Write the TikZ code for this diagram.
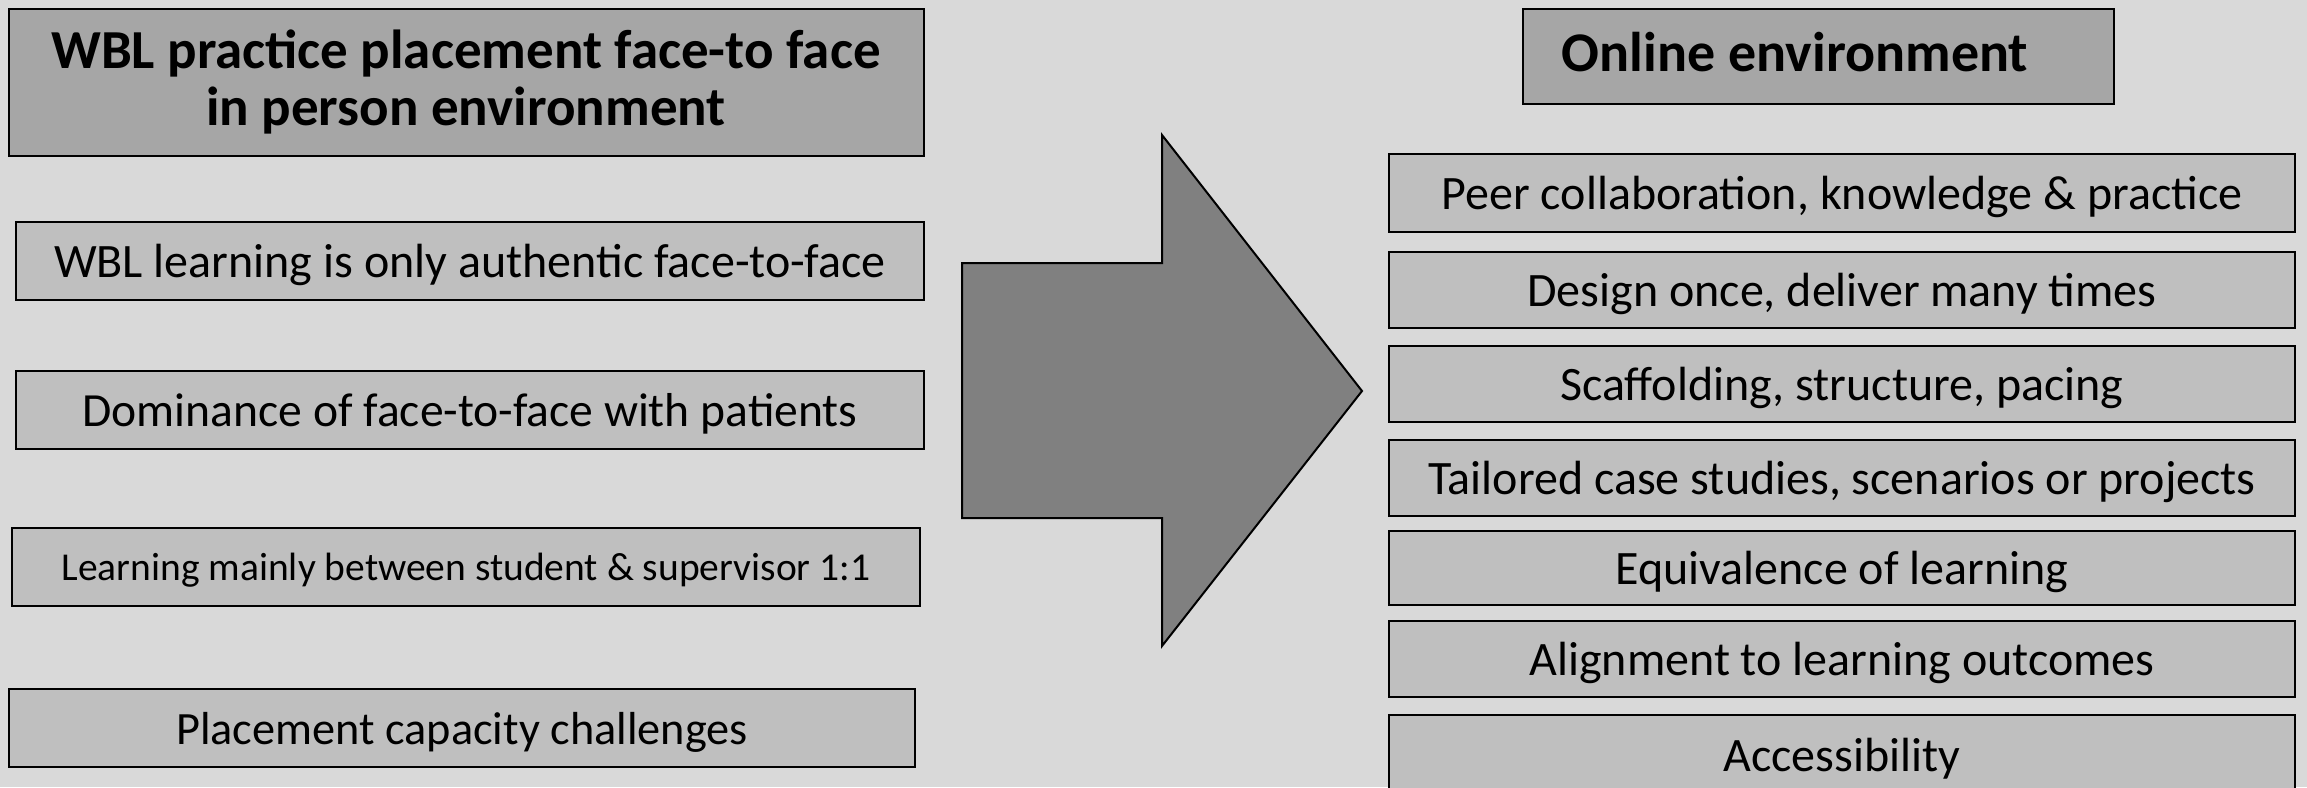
\documentclass[tikz,border=0pt]{standalone}
\usepackage{fontspec}
\setmainfont{Carlito}
\definecolor{bggray}{HTML}{D9D9D9}
\definecolor{headgray}{HTML}{A6A6A6}
\definecolor{itemgray}{HTML}{BFBFBF}
\definecolor{arrowgray}{HTML}{808080}
\begin{document}
\begin{tikzpicture}[x=1pt,y=-1pt,
  box/.style={draw=black, line width=2pt, fill=itemgray, inner sep=0pt, minimum width=906pt, minimum height=76pt, text height=36pt, text depth=4pt, font=\fontsize{48}{54}\selectfont},
  smallbox/.style={box, text height=30pt, text depth=4pt, font=\fontsize{39.5}{45}\selectfont},
  hbox/.style={draw=black, line width=2pt, fill=headgray, inner sep=0pt, font=\bfseries\fontsize{55}{57}\selectfont, align=center},
]
\clip (0,0) rectangle (2307,787);
\fill[bggray] (0,0) rectangle (2307,787);
% left column
\node[hbox, minimum width=915pt, minimum height=147pt] (tl) at (466,82) {WBL practice placement face-to face\\in person environment};
\node[box, minimum width=908pt, minimum height=78pt] (l1) at (470,261) {WBL learning is only authentic face-to-face};
\node[box, minimum width=908pt, minimum height=78pt, font=\fontsize{47.6}{54}\selectfont] (l2) at (470,410) {Dominance of face-to-face with patients};
\node[smallbox, minimum width=908pt, minimum height=78pt] (l3) at (466,567) {Learning mainly between student \& supervisor 1:1};
\node[box, minimum width=906pt, minimum height=78pt, font=\fontsize{46.3}{54}\selectfont] (l4) at (462,728) {Placement capacity challenges};
% arrow
\draw[fill=arrowgray, line width=2pt, line join=miter] (962,263) -- (1162,263) -- (1162,135) -- (1362,391) -- (1162,646) -- (1162,518) -- (962,518) -- cycle;
% right column
\node[hbox, minimum width=591pt, minimum height=95pt] (tr) at (1818,56) {};
\node[font=\bfseries\fontsize{56}{57}\selectfont, inner sep=0pt] (trt) at (1795,52) {Online environment};
\node[box, minimum height=78pt] (r1) at (1842,193) {Peer collaboration, knowledge \& practice};
\node[box] (r2) at (1842,290) {Design once, deliver many times};
\node[box] (r3) at (1842,384) {Scaffolding, structure, pacing};
\node[box] (r4) at (1842,478) {Tailored case studies, scenarios or projects};
\node[box, minimum height=74pt] (r5) at (1842,568) {Equivalence of learning};
\node[box] (r6) at (1842,659) {Alignment to learning outcomes};
\node[box, minimum height=80pt] (r7) at (1842,755) {Accessibility};
\end{tikzpicture}
\end{document}
